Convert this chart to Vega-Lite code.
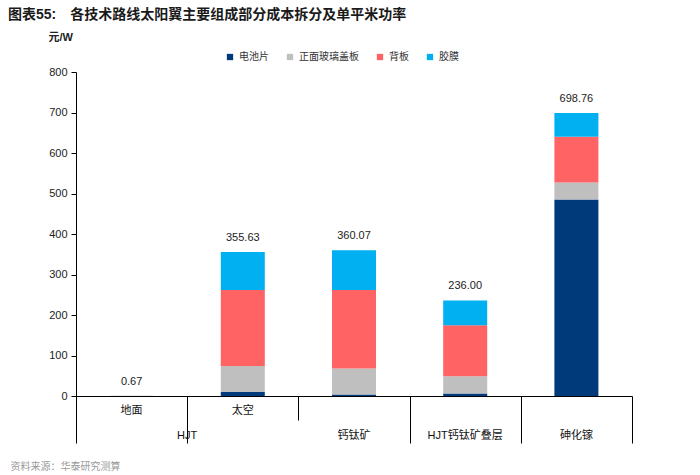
{
  "$schema": "https://vega.github.io/schema/vega-lite/v6.json",
  "width": 556,
  "height": 324,
  "autosize": "none",
  "padding": {"left": 76, "top": 72, "right": 68, "bottom": 79},
  "background": "white",
  "config": {
    "view": {"stroke": null},
    "font": "Liberation Sans, Noto Sans CJK SC",
    "axis": {"grid": false},
    "axisX": {"labelAngle": 0, "labelOverlap": false, "labelBound": false, "labelFlush": false, "labelLimit": 0}
  },
  "title": {
    "text": "图表55:\u3000各技术路线太阳翼主要组成部分成本拆分及单平米功率",
    "anchor": "start",
    "frame": "group",
    "dx": -68,
    "offset": 9,
    "fontSize": 14,
    "fontWeight": "bold",
    "color": "#1a1a1a",
    "font": "Liberation Sans, Noto Sans CJK SC"
  },
  "data": {
    "values": [
      {"route": "地面", "component": "电池片", "rank": 1, "value": 0.3},
      {"route": "地面", "component": "正面玻璃盖板", "rank": 2, "value": 0.15},
      {"route": "地面", "component": "背板", "rank": 3, "value": 0.12},
      {"route": "地面", "component": "胶膜", "rank": 4, "value": 0.1},
      {"route": "太空", "component": "电池片", "rank": 1, "value": 10},
      {"route": "太空", "component": "正面玻璃盖板", "rank": 2, "value": 64},
      {"route": "太空", "component": "背板", "rank": 3, "value": 188},
      {"route": "太空", "component": "胶膜", "rank": 4, "value": 93.63},
      {"route": "钙钛矿", "component": "电池片", "rank": 1, "value": 4},
      {"route": "钙钛矿", "component": "正面玻璃盖板", "rank": 2, "value": 64},
      {"route": "钙钛矿", "component": "背板", "rank": 3, "value": 194},
      {"route": "钙钛矿", "component": "胶膜", "rank": 4, "value": 98.07},
      {"route": "HJT钙钛矿叠层", "component": "电池片", "rank": 1, "value": 6},
      {"route": "HJT钙钛矿叠层", "component": "正面玻璃盖板", "rank": 2, "value": 43},
      {"route": "HJT钙钛矿叠层", "component": "背板", "rank": 3, "value": 126},
      {"route": "HJT钙钛矿叠层", "component": "胶膜", "rank": 4, "value": 61},
      {"route": "砷化镓", "component": "电池片", "rank": 1, "value": 485},
      {"route": "砷化镓", "component": "正面玻璃盖板", "rank": 2, "value": 42},
      {"route": "砷化镓", "component": "背板", "rank": 3, "value": 113},
      {"route": "砷化镓", "component": "胶膜", "rank": 4, "value": 58.76}
    ]
  },
  "resolve": {"axis": {"x": "independent"}},
  "layer": [
    {
      "mark": {"type": "bar", "size": 44},
      "encoding": {
        "x": {
          "field": "route", "type": "nominal",
          "sort": ["地面", "太空", "钙钛矿", "HJT钙钛矿叠层", "砷化镓"],
          "scale": {"paddingInner": 0, "paddingOuter": 0},
          "axis": {
            "orient": "bottom", "title": null, "labels": false,
            "ticks": true, "tickBand": "extent",
            "tickSize": {"condition": {"test": "datum.value === '太空'", "value": 24}, "value": 47},
            "tickColor": "#000", "tickWidth": 1,
            "domainColor": "#000", "domainWidth": 1
          }
        },
        "y": {
          "field": "value", "type": "quantitative", "stack": "zero",
          "scale": {"domain": [0, 800], "nice": false},
          "axis": {
            "title": "元/W", "titleAngle": 0, "titleAlign": "left", "titleBaseline": "middle",
            "titleX": -28, "titleY": -35, "titleFontSize": 11, "titleFontWeight": "bold", "titleColor": "#222",
            "values": [0, 100, 200, 300, 400, 500, 600, 700, 800],
            "labelFontSize": 11, "labelColor": "#222", "labelPadding": 4,
            "tickSize": 5, "tickColor": "#000", "domainColor": "#000"
          }
        },
        "color": {
          "field": "component", "type": "nominal",
          "scale": {
            "domain": ["电池片", "正面玻璃盖板", "背板", "胶膜"],
            "range": ["#003A7A", "#BFBFBF", "#FF6363", "#00B0F0"]
          },
          "legend": {
            "orient": "none", "legendX": 149, "legendY": -20,
            "direction": "horizontal", "title": null,
            "symbolType": "square", "symbolSize": 40, "symbolStrokeWidth": 0,
            "labelFontSize": 10, "labelColor": "#333", "columnPadding": 16,
            "labelFont": "Noto Sans CJK SC"
          }
        },
        "order": {"field": "rank", "type": "quantitative", "sort": "ascending"}
      }
    },
    {
      "transform": [{"aggregate": [{"op": "sum", "field": "value", "as": "total"}], "groupby": ["route"]}],
      "mark": {"type": "text", "baseline": "bottom", "dy": -9, "fontSize": 11, "color": "#222", "font": "Liberation Sans"},
      "encoding": {
        "x": {
          "field": "route", "type": "nominal",
          "sort": ["地面", "太空", "钙钛矿", "HJT钙钛矿叠层", "砷化镓"],
          "axis": {
            "orient": "bottom", "title": null, "ticks": false, "domain": false,
            "labelAngle": 0,
            "labelExpr": "datum.value == '地面' || datum.value == '太空' ? datum.value : ''",
            "labelPadding": 8, "labelFontSize": 11, "labelColor": "#111", "labelFont": "Noto Sans CJK SC"
          }
        },
        "y": {
          "field": "total", "type": "quantitative",
          "scale": {"domain": [0, 800], "nice": false},
          "axis": {
            "title": "元/W", "titleAngle": 0, "titleAlign": "left", "titleBaseline": "middle",
            "titleX": -28, "titleY": -35, "titleFontSize": 11, "titleFontWeight": "bold", "titleColor": "#222",
            "values": [0, 100, 200, 300, 400, 500, 600, 700, 800],
            "labelFontSize": 11, "labelColor": "#222", "labelPadding": 4,
            "tickSize": 5, "tickColor": "#000", "domainColor": "#000"
          }
        },
        "text": {"field": "total", "type": "quantitative", "format": ".2f"}
      }
    },
    {
      "mark": {"type": "rule", "strokeOpacity": 0},
      "encoding": {
        "x": {
          "field": "route", "type": "nominal",
          "sort": ["地面", "太空", "钙钛矿", "HJT钙钛矿叠层", "砷化镓"],
          "axis": {
            "orient": "bottom", "ticks": false, "domain": false,
            "labelAngle": 0,
            "labelExpr": "datum.value == '地面' ? '' : (datum.value == '太空' ? 'HJT' : datum.value)",
            "labelOffset": {"condition": {"test": "datum.value == '太空'", "value": -55.6}, "value": 0},
            "labelPadding": 33, "labelFontSize": 11, "labelColor": "#111",
            "labelFont": "Liberation Sans, Noto Sans CJK SC",
            "title": "资料来源：华泰研究测算",
            "titleX": -66, "titleY": 73, "titleAlign": "left", "titleBaseline": "alphabetic",
            "titleFontSize": 10, "titleFontWeight": "normal", "titleColor": "#9a9a9a",
            "titleFont": "Noto Sans CJK SC"
          }
        }
      }
    }
  ]
}
